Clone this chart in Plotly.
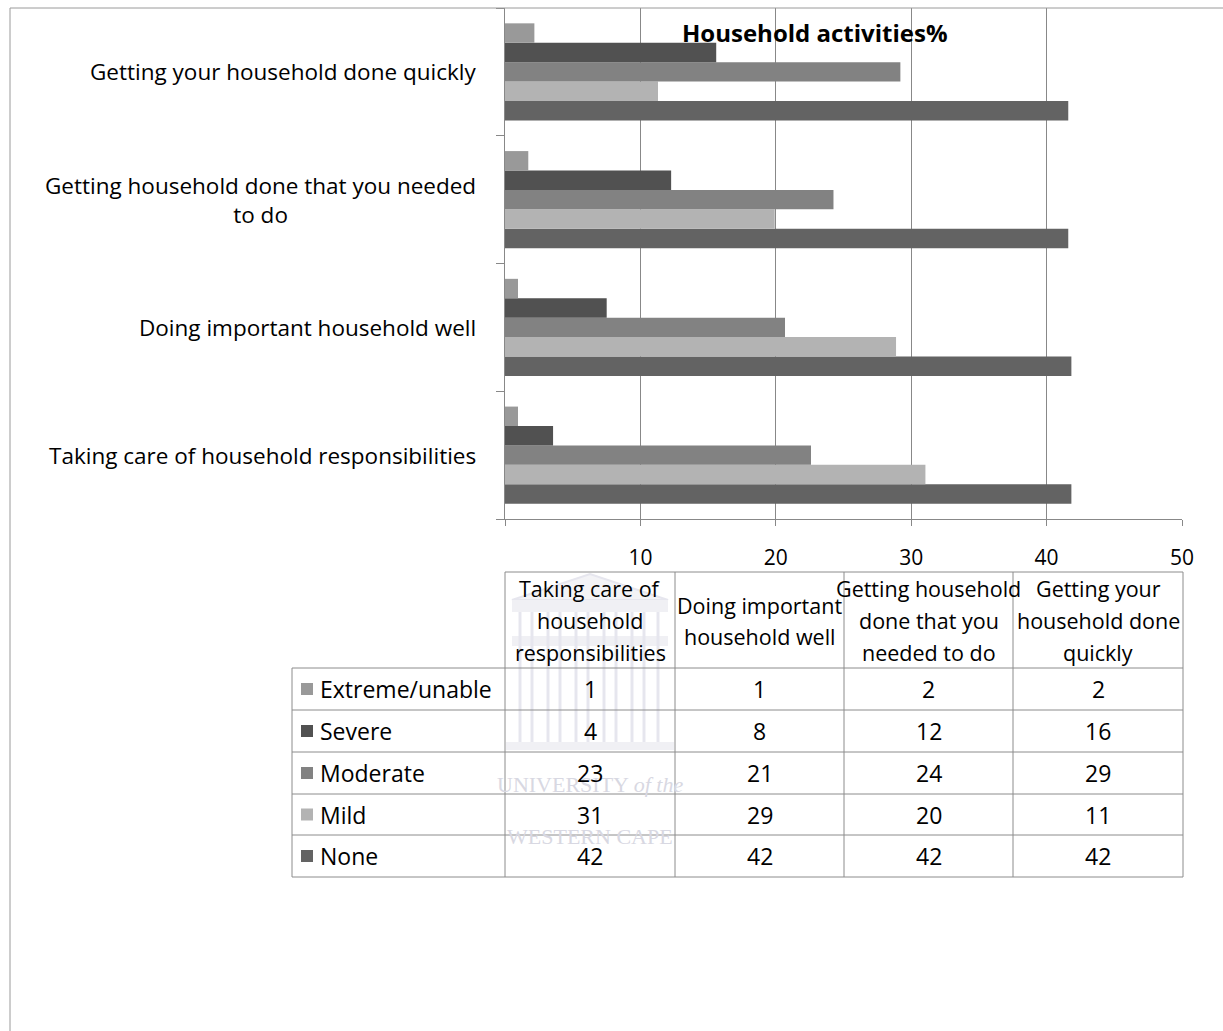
import math
import plotly.graph_objects as go

# ---------------- data ----------------
categories = [
    "Taking care of household responsibilities",
    "Doing important household well",
    "Getting household done that you needed to do",
    "Getting your household done quickly",
]
category_labels = [
    "Taking care of household responsibilities",
    "Doing important household well",
    "Getting household done that you needed<br>to do",
    "Getting your household done quickly",
]
table_headers = [
    ["Taking care of", "household", "responsibilities"],
    ["Doing important", "household well"],
    ["Getting household", "done that you", "needed to do"],
    ["Getting your", "household done", "quickly"],
]
series_names = ["Extreme/unable", "Severe", "Moderate", "Mild", "None"]
extreme = [0.96, 0.96, 1.72, 2.17]
severe = [3.55, 7.51, 12.27, 15.6]
moderate = [22.6, 20.68, 24.26, 29.2]
mild = [31.05, 28.88, 19.92, 11.3]
none_ = [41.83, 41.83, 41.6, 41.6]
series_values = [extreme, severe, moderate, mild, none_]
series_colors = ["#999999", "#515151", "#828282", "#b3b3b3", "#636363"]
x_ticks = [0, 10, 20, 30, 40, 50]
x_ticktext = ["", "10", "20", "30", "40", "50"]
title_text = "Household activities%"
watermark_lines = ["UNIVERSITY <i>of the</i>", "WESTERN CAPE"]

# ---------------- geometry (page pixels) ----------------
W, H = 1223, 1031
L, R, T, B = 505, 1182, 8, 519


def xp(px):
    return (px - L) / (R - L)


def yp(py):
    return (B - py) / (B - T)


GRID = "#888888"
BORDER = "#8c8c8c"
WM = "#e6e6ee"
FONT_REG = "Open Sans, Lato, sans-serif"

fig = go.Figure()
# plotly draws first trace at the bottom of each group -> add None first
for name, vals, col in reversed(list(zip(series_names, series_values, series_colors))):
    fig.add_trace(go.Bar(
        y=categories, x=vals, name=name, orientation="h",
        marker=dict(color=col, line=dict(width=0)),
        showlegend=False, hoverinfo="x+name",
    ))

shapes = []
annotations = []


def hline(x0, x1, y, color=BORDER, w=1, layer="above"):
    shapes.append(dict(type="line", xref="paper", yref="paper", layer=layer,
                       x0=xp(x0), x1=xp(x1), y0=yp(y), y1=yp(y),
                       line=dict(color=color, width=w)))


def vline(x, y0, y1, color=BORDER, w=1, layer="above"):
    shapes.append(dict(type="line", xref="paper", yref="paper", layer=layer,
                       x0=xp(x), x1=xp(x), y0=yp(y0), y1=yp(y1),
                       line=dict(color=color, width=w)))


def rect(x0, y0, x1, y1, fill, layer="above"):
    shapes.append(dict(type="rect", xref="paper", yref="paper", layer=layer,
                       x0=xp(x0), x1=xp(x1), y0=yp(y0), y1=yp(y1),
                       fillcolor=fill, line=dict(width=0)))


def text(x, y, s, size=20, family=FONT_REG, anchor="center", color="#000000", bold=False):
    if bold:
        s = "<b>" + s + "</b>"
    annotations.append(dict(xref="paper", yref="paper", x=xp(x), y=yp(y), text=s,
                            showarrow=False, xanchor=anchor, yanchor="middle",
                            font=dict(size=size, family=family, color=color)))


# outer frame (top and left edges)
hline(10, W, 8, color="#9a9a9a")
vline(10, 8, H, color="#9a9a9a")

# faint watermark building (decorative, behind the table)
shapes.append(dict(type="path", xref="paper", yref="paper", layer="below",
                   path="M {},{} L {},{} L {},{} Z".format(xp(512), yp(600), xp(590), yp(574), xp(668), yp(600)),
                   fillcolor="#f3f3f6", line=dict(color=WM, width=2)))
rect(512, 600, 668, 612, "#f0f0f4", layer="below")
rect(512, 636, 668, 646, "#f0f0f4", layer="below")
for cxp in [520, 532, 548, 560, 576, 588, 604, 616, 632, 644, 658]:
    vline(cxp, 612, 742, color=WM, w=3, layer="below")
rect(506, 742, 674, 750, "#f0f0f4", layer="below")

# title
text(815, 32, title_text, size=24, bold=True)

# category labels (centered multi-line, right aligned block)
for cat, lab in zip(categories, category_labels):
    annotations.append(dict(xref="paper", yref="y", x=xp(478), y=cat, text=lab,
                            showarrow=False, xanchor="right", yanchor="middle", align="center",
                            font=dict(size=22.5, family=FONT_REG, color="#000000")))

# ---------------- data table ----------------
col_edges = [505, 675, 844, 1013, 1183]
row_edges = [668, 710, 752, 794, 835, 877]
head_top = 572
label_left = 292

# watermark text (faint)
text(590, 784, watermark_lines[0], size=22, family="Liberation Serif, serif", color="#d8d8e2")
text(590, 836, watermark_lines[1], size=22, family="Liberation Serif, serif", color="#d8d8e2")

hline(col_edges[0], col_edges[-1], head_top)
for ry in row_edges:
    hline(label_left, col_edges[-1], ry)
for cx in col_edges:
    vline(cx, head_top, row_edges[-1])
vline(label_left, row_edges[0], row_edges[-1])

# header texts
head_line_y = {3: [588, 620, 652], 2: [605, 636]}
for i, lines in enumerate(table_headers):
    cx = (col_edges[i] + col_edges[i + 1]) / 2
    for ln, ly in zip(lines, head_line_y[len(lines)]):
        text(cx, ly, ln, size=21.5)

# rows
for r, (name, vals, col) in enumerate(zip(series_names, series_values, series_colors)):
    cy = (row_edges[r] + row_edges[r + 1]) / 2
    rect(301, cy - 6, 313, cy + 6, col)
    text(318, cy, name, size=23, anchor="left")
    for c, v in enumerate(vals):
        cx = (col_edges[c] + col_edges[c + 1]) / 2
        text(cx, cy, str(int(math.floor(v + 0.5))), size=23)

fig.update_layout(
    width=W, height=H,
    margin=dict(l=L, r=W - R, t=T, b=H - B, pad=0),
    paper_bgcolor="#ffffff", plot_bgcolor="#ffffff",
    barmode="group", bargap=0.24, bargroupgap=0,
    shapes=shapes, annotations=annotations,
    xaxis=dict(range=[0, 50], tickvals=x_ticks, ticktext=x_ticktext,
               showgrid=True, gridcolor=GRID, gridwidth=1,
               showline=True, linecolor=GRID, linewidth=1, mirror=False,
               ticks="outside", ticklen=6, tickcolor=GRID,
               zeroline=False, ticklabelstandoff=14,
               tickfont=dict(size=21, family=FONT_REG, color="#000000")),
    yaxis=dict(type="category", categoryorder="array", categoryarray=categories,
               showgrid=False, showline=True, linecolor=GRID, linewidth=1,
               ticks="outside", tickson="boundaries", ticklen=8, tickcolor=GRID,
               showticklabels=False, zeroline=False),
)

fig.write_html("out.html")
